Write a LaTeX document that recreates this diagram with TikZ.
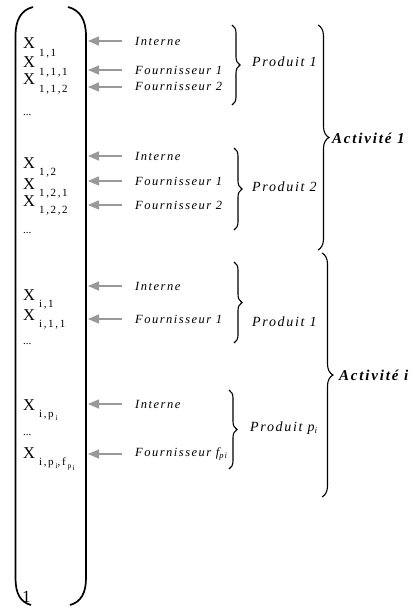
\documentclass[tikz,border=0pt]{standalone}
\usepackage{fontspec}
\setmainfont{Liberation Serif}
\newfontfamily\labf[LetterSpace=12]{Liberation Serif}
\newfontfamily\prodf[LetterSpace=12]{Liberation Serif}
\newfontfamily\actf[LetterSpace=12]{Liberation Serif}
\newfontfamily\subf[LetterSpace=15]{Liberation Serif}
\usetikzlibrary{arrows.meta,decorations.pathreplacing}
\newcommand\Xbig{{\fontsize{16.5}{16.5}\selectfont X}\hspace{4pt}}
\newcommand\Xsub[1]{\raisebox{-7.5pt}{\subf\fontsize{11}{11}\selectfont #1}}
\newcommand\Xssub[1]{\raisebox{-3pt}{\subf\fontsize{7.5}{7.5}\selectfont #1}}
\newcommand\Xlab[1]{\Xbig\Xsub{#1}}
\tikzset{
  xl/.style={anchor=base west,inner sep=0pt},
  dotl/.style={anchor=base west,inner sep=0pt,font=\fontsize{11}{11}\selectfont},
  srcl/.style={anchor=west,inner sep=0pt,font=\labf\itshape\fontsize{12.5}{12.5}\selectfont},
  prodl/.style={anchor=west,inner sep=0pt,font=\prodf\itshape\fontsize{14}{14}\selectfont},
  actl/.style={anchor=west,inner sep=0pt,font=\actf\bfseries\itshape\fontsize{15}{15}\selectfont},
  feed/.style={draw=black!40,line width=1.3pt,-{Triangle[length=11pt,width=9pt]}},
  smallbrace/.style={draw,line width=1.1pt,decorate,decoration={brace,amplitude=8pt}},
  bigbrace/.style={draw,line width=1.1pt,decorate,decoration={brace,amplitude=11pt}},
  paren/.style={draw,line width=1.7pt}
}
\begin{document}
\begin{tikzpicture}[x=1pt,y=-1pt]
\useasboundingbox (0,0) rectangle (414,607);
% big parentheses
\path[paren] (33,7) .. controls (21,10) and (15.5,20) .. (15.5,36) -- (15.5,578) .. controls (15.5,593) and (20,602) .. (31,605);
\path[paren] (68,7) .. controls (80,10) and (86,20) .. (86,36) -- (86,578) .. controls (86,593) and (81,602) .. (70,605);
\node[anchor=base west,inner sep=0pt,font=\fontsize{17}{17}\selectfont] (one) at (22,602) {1};
% X labels
\node[xl] (x11)  at (23,49)  {\Xlab{1,1}};
\node[xl] (x111) at (23,68)  {\Xlab{1,1,1}};
\node[xl] (x112) at (23,85)  {\Xlab{1,1,2}};
\node[dotl] (d1) at (23,116) {...};
\node[xl] (x12)  at (23,168) {\Xlab{1,2}};
\node[xl] (x121) at (23,189) {\Xlab{1,2,1}};
\node[xl] (x122) at (23,206) {\Xlab{1,2,2}};
\node[dotl] (d2) at (23,233) {...};
\node[xl] (xi1)  at (23,300) {\Xlab{i,1}};
\node[xl] (xi11) at (23,320) {\Xlab{i,1,1}};
\node[dotl] (d3) at (23,344) {...};
\node[xl] (xip)  at (23,410) {\Xbig\Xsub{i,p\,\Xssub{i}}};
\node[dotl] (d4) at (23,435) {...};
\node[xl] (xipf) at (23,458) {\Xbig\Xsub{i,p\,\Xssub{i},f\,\Xssub{p\,\raisebox{-2pt}{i}}}};
% source labels
\node[srcl] (s1) at (135,41)  {Interne};
\node[srcl] (s2) at (135,70)  {Fournisseur 1};
\node[srcl] (s3) at (135,86)  {Fournisseur 2};
\node[srcl] (s4) at (135,156) {Interne};
\node[srcl] (s5) at (135,181) {Fournisseur 1};
\node[srcl] (s6) at (135,205) {Fournisseur 2};
\node[srcl] (s7) at (135,286) {Interne};
\node[srcl] (s8) at (135,319) {Fournisseur 1};
\node[srcl] (s9) at (135,404) {Interne};
\node[srcl] (s10) at (135,454) {Fournisseur f\raisebox{-2.5pt}{\fontsize{8.5}{8.5}\selectfont pi}};
% arrow ends
\foreach \i/\y in {1/41,2/70,3/87,4/156,5/181,6/205,7/286,8/319,9/404,10/454}{
  \coordinate (t\i) at (122,\y);
  \coordinate (h\i) at (88,\y);
  \draw[feed] (t\i) -- (h\i);
}
% small braces
\coordinate (b1a) at (232,25);  \coordinate (b1b) at (232,105);
\coordinate (b2a) at (234,148); \coordinate (b2b) at (234,230);
\coordinate (b3a) at (234,262); \coordinate (b3b) at (234,343);
\coordinate (b4a) at (229,390); \coordinate (b4b) at (229,469);
\path[smallbrace] (b1a) -- (b1b);
\path[smallbrace] (b2a) -- (b2b);
\path[smallbrace] (b3a) -- (b3b);
\path[smallbrace] (b4a) -- (b4b);
\node[prodl] (p1) at (252,62)  {Produit 1};
\node[prodl] (p2) at (252,187) {Produit 2};
\node[prodl] (p3) at (252,322) {Produit 1};
\node[prodl] (p4) at (250,428) {Produit p\raisebox{-2.5pt}{\fontsize{9}{9}\selectfont i}};
% big braces
\coordinate (B1a) at (318,25);  \coordinate (B1b) at (318,250);
\coordinate (B2a) at (322,253); \coordinate (B2b) at (322,497);
\path[bigbrace] (B1a) -- (B1b);
\path[bigbrace] (B2a) -- (B2b);
\node[actl] (a1) at (332,138) {Activité 1};
\node[actl] (a2) at (339,375) {Activité i};
\end{tikzpicture}
\end{document}
